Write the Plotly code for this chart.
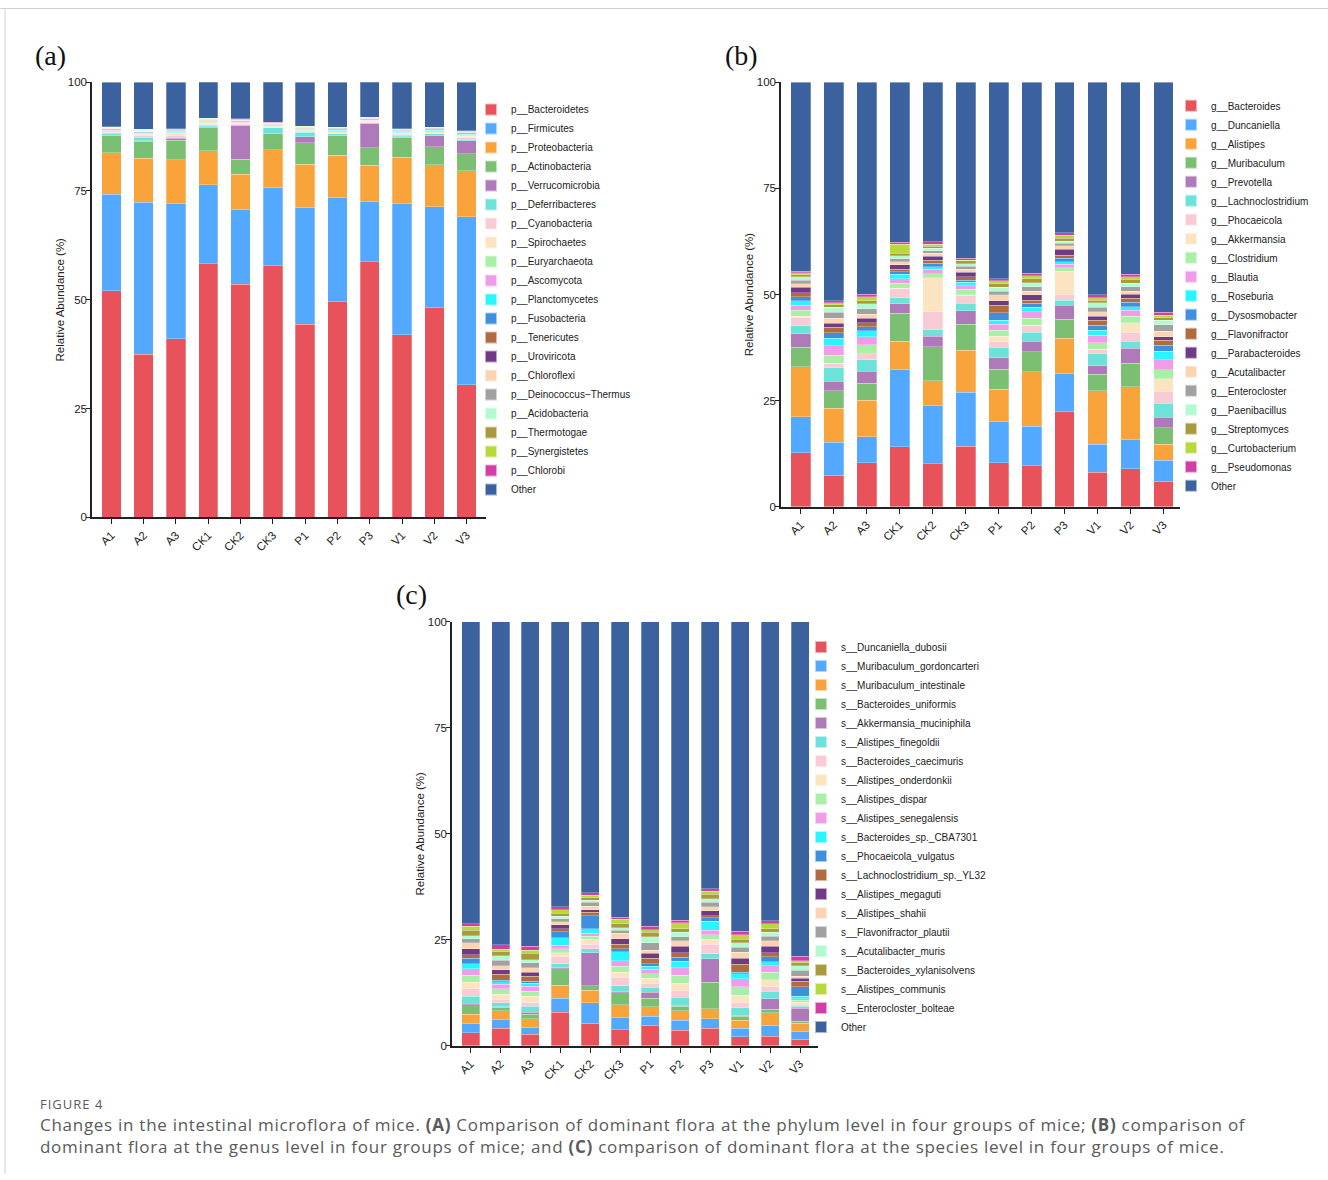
import plotly.graph_objects as go

W, H = 1328, 1180

samples = ["A1", "A2", "A3", "CK1", "CK2", "CK3", "P1", "P2", "P3", "V1", "V2", "V3"]
ytick_vals = [0, 25, 50, 75, 100]

palette = ["#E8525A", "#52A9FF", "#F9A33B", "#7ABF72", "#AE7AB9", "#6DE2D9", "#F9CCD5",
           "#FCE4C0", "#A9EFA5", "#F19CEA", "#27F6FE", "#3E8FDF", "#B06B3E", "#6F3B86",
           "#FDD4B2", "#A1A1A1", "#B3FAD0", "#A99A3D", "#B7D93C", "#D23DA6", "#3B629E"]

# ---------------- (a) phylum level ----------------
phylum_names = ["p__Bacteroidetes", "p__Firmicutes", "p__Proteobacteria", "p__Actinobacteria",
                "p__Verrucomicrobia", "p__Deferribacteres", "p__Cyanobacteria", "p__Spirochaetes",
                "p__Euryarchaeota", "p__Ascomycota", "p__Planctomycetes", "p__Fusobacteria",
                "p__Tenericutes", "p__Uroviricota", "p__Chloroflexi", "p__Deinococcus\u2212Thermus",
                "p__Acidobacteria", "p__Thermotogae", "p__Synergistetes", "p__Chlorobi", "Other"]
p_bacteroidetes = [52.1, 37.5, 41.0, 58.3, 53.6, 57.8, 44.4, 49.5, 58.7, 42.0, 48.2, 30.5]
p_firmicutes = [22.2, 34.9, 31.1, 18.1, 17.1, 18.1, 26.7, 23.9, 13.8, 30.1, 23.2, 38.6]
p_proteobacteria = [9.5, 10.1, 10.1, 7.9, 8.2, 8.6, 10.1, 9.8, 8.4, 10.7, 9.6, 10.5]
p_actinobacteria = [3.9, 3.9, 4.5, 5.4, 3.4, 3.6, 4.9, 4.5, 4.0, 4.5, 4.2, 3.9]
p_verrucomicrobia = [0.1, 0.2, 0.4, 0.1, 7.7, 0.1, 1.4, 0.1, 5.6, 0.2, 2.5, 3.1]
p_deferribacteres = [0.5, 0.8, 0.3, 0.3, 0.2, 1.3, 1.0, 0.3, 0.2, 0.3, 0.4, 0.3]
p_cyanobacteria = [0.2, 0.3, 0.3, 0.2, 0.2, 0.1, 0.2, 0.2, 0.1, 0.2, 0.2, 0.3]
p_spirochaetes = [0.3, 0.3, 0.4, 0.3, 0.2, 0.2, 0.2, 0.3, 0.2, 0.2, 0.3, 0.4]
p_euryarchaeota = [0.1, 0.2, 0.2, 0.2, 0.1, 0.1, 0.1, 0.2, 0.1, 0.1, 0.2, 0.2]
p_ascomycota = [0.1, 0.1, 0.1, 0.1, 0.1, 0.1, 0.1, 0.1, 0.1, 0.1, 0.1, 0.1]
p_planctomycetes = [0.1, 0.1, 0.1, 0.1, 0.1, 0.1, 0.1, 0.1, 0.1, 0.1, 0.1, 0.1]
p_fusobacteria = [0.1, 0.1, 0.1, 0.1, 0.1, 0.1, 0.1, 0.1, 0.1, 0.1, 0.1, 0.1]
p_tenericutes = [0.1, 0.1, 0.1, 0.1, 0.1, 0.1, 0.1, 0.1, 0.1, 0.1, 0.1, 0.1]
p_uroviricota = [0.05, 0.05, 0.05, 0.05, 0.05, 0.05, 0.05, 0.05, 0.05, 0.05, 0.05, 0.05]
p_chloroflexi = [0.1, 0.1, 0.1, 0.1, 0.1, 0.05, 0.1, 0.1, 0.05, 0.1, 0.1, 0.1]
p_deinococcus = [0.1, 0.15, 0.15, 0.1, 0.1, 0.1, 0.1, 0.1, 0.1, 0.15, 0.1, 0.15]
p_acidobacteria = [0.05, 0.05, 0.05, 0.05, 0.05, 0.05, 0.05, 0.05, 0.05, 0.05, 0.05, 0.05]
p_thermotogae = [0.1, 0.15, 0.15, 0.15, 0.1, 0.1, 0.1, 0.1, 0.1, 0.1, 0.1, 0.15]
p_synergistetes = [0.05, 0.05, 0.05, 0.05, 0.05, 0.05, 0.05, 0.05, 0.05, 0.05, 0.05, 0.05]
p_chlorobi = [0.05, 0.05, 0.05, 0.05, 0.05, 0.05, 0.05, 0.05, 0.05, 0.05, 0.05, 0.05]
p_other = [10.2, 10.8, 10.7, 8.3, 8.4, 9.3, 10.1, 10.3, 8.1, 10.7, 10.3, 11.2]

# ---------------- (b) genus level ----------------
genus_names = ["g__Bacteroides", "g__Duncaniella", "g__Alistipes", "g__Muribaculum", "g__Prevotella",
               "g__Lachnoclostridium", "g__Phocaeicola", "g__Akkermansia", "g__Clostridium",
               "g__Blautia", "g__Roseburia", "g__Dysosmobacter", "g__Flavonifractor",
               "g__Parabacteroides", "g__Acutalibacter", "g__Enterocloster", "g__Paenibacillus",
               "g__Streptomyces", "g__Curtobacterium", "g__Pseudomonas", "Other"]
g_bacteroides = [12.7, 7.5, 10.4, 14.1, 10.1, 14.3, 10.4, 9.7, 22.4, 8.1, 9.0, 6.0]
g_duncaniella = [8.5, 7.7, 6.1, 18.3, 13.8, 12.7, 9.6, 9.3, 9.0, 6.6, 6.9, 5.0]
g_alistipes = [11.8, 8.0, 8.6, 6.6, 5.8, 9.9, 7.7, 12.8, 8.3, 12.6, 12.4, 3.8]
g_muribaculum = [4.6, 4.1, 4.0, 6.6, 8.0, 6.1, 4.7, 4.7, 4.5, 3.9, 5.5, 3.8]
g_prevotella = [3.2, 2.3, 2.8, 2.2, 2.5, 3.2, 2.7, 2.5, 3.3, 2.0, 3.5, 2.5]
g_lachnoclostridium = [1.8, 3.2, 2.7, 1.5, 1.5, 1.7, 2.5, 2.1, 1.2, 2.9, 1.7, 3.3]
g_phocaeicola = [2.1, 1.0, 1.4, 2.2, 4.3, 1.8, 1.3, 1.7, 1.3, 1.0, 2.1, 2.8]
g_akkermansia = [0.2, 0.0, 0.0, 0.0, 7.9, 0.3, 1.3, 0.0, 5.5, 0.0, 2.3, 3.0]
g_clostridium = [1.4, 1.9, 2.2, 1.1, 1.0, 1.2, 1.4, 1.6, 0.8, 1.5, 1.5, 2.1]
g_blautia = [1.2, 2.2, 1.9, 1.1, 1.0, 0.9, 1.4, 1.5, 0.8, 1.8, 1.4, 2.3]
g_roseburia = [1.0, 1.8, 1.4, 1.1, 0.7, 0.8, 1.0, 1.1, 0.6, 1.2, 0.8, 2.1]
g_dysosmobacter = [1.0, 1.3, 0.9, 0.6, 0.8, 0.5, 1.7, 0.9, 0.8, 1.2, 1.1, 1.3]
g_flavonifractor = [0.9, 1.3, 0.9, 0.5, 0.7, 0.8, 1.8, 0.8, 0.8, 1.2, 0.9, 1.2]
g_parabacteroides = [1.3, 0.9, 1.1, 1.1, 0.9, 1.1, 1.0, 1.2, 1.4, 0.9, 1.0, 0.8]
g_acutalibacter = [0.8, 1.2, 1.0, 0.7, 0.7, 0.7, 1.4, 0.9, 0.8, 1.0, 0.7, 1.3]
g_enterocloster = [0.9, 1.4, 1.2, 0.7, 0.6, 0.7, 0.9, 1.0, 0.6, 1.1, 1.0, 1.6]
g_paenibacillus = [0.8, 1.2, 1.2, 0.7, 0.6, 0.5, 0.9, 1.0, 0.4, 1.1, 0.8, 1.1]
g_streptomyces = [0.5, 0.6, 0.7, 0.6, 0.5, 0.8, 0.8, 0.9, 0.7, 0.6, 1.0, 0.5]
g_curtobacterium = [0.4, 0.5, 1.0, 2.2, 0.5, 0.1, 0.7, 0.7, 0.8, 0.5, 0.6, 0.6]
g_pseudomonas = [0.4, 0.4, 0.6, 0.4, 0.5, 0.4, 0.5, 0.6, 0.6, 0.7, 0.6, 0.7]
g_other = [44.5, 51.5, 49.9, 37.7, 37.6, 41.5, 46.3, 45.0, 35.4, 50.1, 45.2, 54.2]

# ---------------- (c) species level ----------------
species_names = ["s__Duncaniella_dubosii", "s__Muribaculum_gordoncarteri", "s__Muribaculum_intestinale",
                 "s__Bacteroides_uniformis", "s__Akkermansia_muciniphila", "s__Alistipes_finegoldii",
                 "s__Bacteroides_caecimuris", "s__Alistipes_onderdonkii", "s__Alistipes_dispar",
                 "s__Alistipes_senegalensis", "s__Bacteroides_sp._CBA7301", "s__Phocaeicola_vulgatus",
                 "s__Lachnoclostridium_sp._YL32", "s__Alistipes_megaguti", "s__Alistipes_shahii",
                 "s__Flavonifractor_plautii", "s__Acutalibacter_muris", "s__Bacteroides_xylanisolvens",
                 "s__Alistipes_communis", "s__Enterocloster_bolteae", "Other"]
s_duncaniella_dubosii = [3.1, 4.1, 2.7, 7.9, 5.3, 3.8, 4.8, 3.7, 4.2, 2.1, 2.3, 1.5]
s_muribaculum_gordoncarteri = [2.2, 2.1, 1.7, 3.3, 4.8, 2.9, 2.2, 2.3, 2.2, 2.0, 2.6, 1.9]
s_muribaculum_intestinale = [2.2, 2.1, 2.0, 3.1, 3.0, 3.0, 2.2, 2.3, 2.3, 1.9, 2.9, 1.9]
s_bacteroides_uniformis = [2.2, 0.8, 1.0, 3.9, 1.1, 2.8, 2.0, 1.0, 6.3, 1.0, 0.8, 0.5]
s_akkermansia_muciniphila = [0.3, 0.1, 0.5, 0.2, 7.7, 0.2, 1.4, 0.2, 5.5, 0.1, 2.5, 3.0]
s_alistipes_finegoldii = [1.7, 1.0, 1.4, 1.0, 1.0, 1.5, 1.2, 2.0, 1.2, 1.9, 1.8, 0.5]
s_bacteroides_caecimuris = [1.7, 0.8, 1.0, 1.6, 1.1, 2.0, 1.0, 1.5, 2.2, 1.1, 1.0, 0.4]
s_alistipes_onderdonkii = [1.6, 1.2, 1.4, 0.9, 1.1, 1.2, 1.1, 1.8, 1.2, 1.8, 1.7, 0.6]
s_alistipes_dispar = [1.6, 1.2, 1.2, 1.0, 0.7, 1.4, 1.1, 1.8, 1.1, 2.0, 1.8, 0.4]
s_alistipes_senegalensis = [1.6, 1.1, 1.2, 0.8, 0.7, 1.3, 1.0, 1.8, 1.1, 1.9, 1.5, 0.4]
s_bacteroides_sp_cba7301 = [1.2, 0.6, 0.6, 1.8, 1.1, 2.1, 0.8, 1.5, 2.1, 1.2, 0.9, 0.6]
s_phocaeicola_vulgatus = [1.2, 0.4, 0.5, 1.4, 3.1, 0.7, 0.6, 1.0, 0.8, 0.4, 1.2, 2.2]
s_lachnoclostridium_sp_yl32 = [0.9, 1.4, 1.2, 0.7, 0.8, 1.1, 1.3, 1.0, 0.5, 1.8, 0.9, 1.3]
s_alistipes_megaguti = [1.4, 1.0, 1.0, 1.0, 0.6, 1.3, 1.1, 1.6, 1.2, 1.4, 1.6, 0.7]
s_alistipes_shahii = [1.4, 1.0, 1.0, 0.6, 0.8, 1.2, 0.7, 1.3, 0.9, 1.5, 1.3, 0.5]
s_flavonifractor_plautii = [0.9, 1.3, 1.2, 0.7, 0.9, 0.7, 1.8, 0.9, 1.0, 1.1, 1.0, 1.4]
s_acutalibacter_muris = [0.8, 1.0, 0.7, 0.6, 0.5, 0.6, 1.4, 1.1, 0.9, 1.1, 1.0, 1.1]
s_bacteroides_xylanisolvens = [1.2, 1.0, 1.5, 0.8, 0.6, 1.0, 1.1, 0.8, 1.0, 0.8, 0.8, 0.7]
s_alistipes_communis = [1.0, 0.6, 0.7, 0.8, 0.6, 1.0, 0.6, 1.4, 0.7, 1.1, 1.2, 0.5]
s_enterocloster_bolteae = [0.6, 1.0, 1.0, 0.7, 0.6, 0.5, 0.8, 0.6, 0.6, 0.8, 0.7, 1.0]
s_other = [71.2, 76.2, 76.5, 67.2, 63.9, 69.7, 71.8, 70.4, 63.0, 73.0, 70.5, 78.9]

phylum_series = [p_bacteroidetes, p_firmicutes, p_proteobacteria, p_actinobacteria, p_verrucomicrobia,
                 p_deferribacteres, p_cyanobacteria, p_spirochaetes, p_euryarchaeota, p_ascomycota,
                 p_planctomycetes, p_fusobacteria, p_tenericutes, p_uroviricota, p_chloroflexi,
                 p_deinococcus, p_acidobacteria, p_thermotogae, p_synergistetes, p_chlorobi, p_other]
genus_series = [g_bacteroides, g_duncaniella, g_alistipes, g_muribaculum, g_prevotella,
                g_lachnoclostridium, g_phocaeicola, g_akkermansia, g_clostridium, g_blautia,
                g_roseburia, g_dysosmobacter, g_flavonifractor, g_parabacteroides, g_acutalibacter,
                g_enterocloster, g_paenibacillus, g_streptomyces, g_curtobacterium, g_pseudomonas, g_other]
species_series = [s_duncaniella_dubosii, s_muribaculum_gordoncarteri, s_muribaculum_intestinale,
                  s_bacteroides_uniformis, s_akkermansia_muciniphila, s_alistipes_finegoldii,
                  s_bacteroides_caecimuris, s_alistipes_onderdonkii, s_alistipes_dispar,
                  s_alistipes_senegalensis, s_bacteroides_sp_cba7301, s_phocaeicola_vulgatus,
                  s_lachnoclostridium_sp_yl32, s_alistipes_megaguti, s_alistipes_shahii,
                  s_flavonifractor_plautii, s_acutalibacter_muris, s_bacteroides_xylanisolvens,
                  s_alistipes_communis, s_enterocloster_bolteae, s_other]

# panel geometry in pixels: (x0, x1, ytop, ybottom), x range, legend x/y (pixels)
panels = [
    dict(names=phylum_names, series=phylum_series, ax="", leg="legend",
         px=(92, 486, 77, 516.5), xr=[-0.6, 11.6], lx=471, ly=90),
    dict(names=genus_names, series=genus_series, ax="2", leg="legend2",
         px=(781, 1180, 77, 506), xr=[-0.6, 11.5], lx=1171, ly=86),
    dict(names=species_names, series=species_series, ax="3", leg="legend3",
         px=(452, 818, 622, 1050.5), xr=[-0.62, 11.6], lx=801, ly=633),
]

FONT = "Liberation Sans, Arial, sans-serif"
INK = "#222222"

fig = go.Figure()
layout = dict(
    width=W, height=H, margin=dict(l=0, r=0, t=0, b=0),
    paper_bgcolor="white", plot_bgcolor="white",
    barmode="stack", bargap=0.4,
    font=dict(family=FONT, color=INK, size=11.5),
)

for p in panels:
    x0, x1, yt, yb = p["px"]
    xa = "x" + p["ax"]
    ya = "y" + p["ax"]
    for name, vals, col in zip(p["names"], p["series"], palette):
        fig.add_trace(go.Bar(
            x=samples, y=vals, name=name, xaxis=xa, yaxis=ya, legend=p["leg"],
            marker=dict(color=col, line=dict(color="rgba(255,255,255,0.55)", width=0.5)),
            hovertemplate="%{x}<br>" + name + ": %{y}%<extra></extra>",
        ))
    layout["xaxis" + p["ax"]] = dict(
        domain=[x0 / W, x1 / W], anchor=ya, range=p["xr"],
        showline=True, linecolor=INK, linewidth=1.5, mirror=False,
        ticks="outside", ticklen=5, tickwidth=1.2, tickcolor=INK,
        tickangle=-45, tickfont=dict(size=11.5, color=INK, family=FONT),
        showgrid=False, zeroline=False, fixedrange=True,
    )
    layout["yaxis" + p["ax"]] = dict(
        domain=[1 - yb / H, 1 - yt / H], anchor=xa, range=[0, 100],
        tickvals=ytick_vals, ticktext=[str(v) for v in ytick_vals],
        showline=True, linecolor=INK, linewidth=1.5,
        ticks="outside", ticklen=4, tickwidth=1.2, tickcolor=INK, ticklabelstandoff=-3,
        tickfont=dict(size=11.5, color=INK, family=FONT),
        title=dict(text="Relative Abundance (%)", font=dict(size=11.5, color=INK, family=FONT), standoff=1),
        showgrid=False, zeroline=False, fixedrange=True,
    )
    layout[p["leg"]] = dict(
        x=p["lx"] / W, y=1 - p["ly"] / H, xanchor="left", yanchor="top",
        traceorder="normal", bgcolor="rgba(0,0,0,0)", borderwidth=0,
        font=dict(size=10, color=INK, family=FONT), tracegroupgap=0,
        itemsizing="constant",
    )

fig.update_layout(**layout)

# panel letters
for txt, px, py in [("(a)", 50, 50), ("(b)", 742, 50), ("(c)", 411, 595)]:
    fig.add_annotation(text=txt, x=px / W, y=1 - py / H, xref="paper", yref="paper",
                       showarrow=False, xanchor="center", yanchor="middle",
                       font=dict(family="Liberation Serif, Times New Roman, serif", size=28, color="#111"))

# caption
CAP = "Open Sans, Noto Sans, sans-serif"
SP = '<span style="letter-spacing:0.72px">'
fig.add_annotation(text='<span style="letter-spacing:1px">FIGURE 4</span>', x=38 / W, y=1 - 1109.5 / H,
                   xref="paper", yref="paper", showarrow=False, xanchor="left", yanchor="middle",
                   font=dict(family=CAP, size=13, color="#5a5a5a"))
fig.add_annotation(
    text=SP + "Changes in the intestinal microflora of mice. <b>(A)</b> Comparison of dominant flora at the phylum level in four groups of mice; <b>(B)</b> comparison of</span>",
    x=38 / W, y=1 - 1130 / H, xref="paper", yref="paper", showarrow=False,
    xanchor="left", yanchor="middle", font=dict(family=CAP, size=17, color="#5a5a5a"))
fig.add_annotation(
    text=SP + "dominant flora at the genus level in four groups of mice; and <b>(C)</b> comparison of dominant flora at the species level in four groups of mice.</span>",
    x=38 / W, y=1 - 1152 / H, xref="paper", yref="paper", showarrow=False,
    xanchor="left", yanchor="middle", font=dict(family=CAP, size=17, color="#5a5a5a"))

# page frame lines
fig.add_shape(type="line", xref="paper", yref="paper", x0=0, x1=1, y0=1 - 2.5 / H, y1=1 - 2.5 / H,
              line=dict(color="#d0d0d0", width=1))
fig.add_shape(type="line", xref="paper", yref="paper", x0=5 / W, x1=5 / W, y0=0, y1=1 - 2.5 / H,
              line=dict(color="#d0d0d0", width=1))

fig.write_html(
    "out.html",
    config={"displayModeBar": False},
    post_script=(
        "document.documentElement.style.margin='0';document.body.style.margin='0';"
        "document.documentElement.style.overflow='hidden';document.body.style.overflow='hidden';"
        "var d=document.getElementById('{plot_id}');d.style.position='fixed';"
        "d.style.left='0px';d.style.top='0px';"
    ),
)
